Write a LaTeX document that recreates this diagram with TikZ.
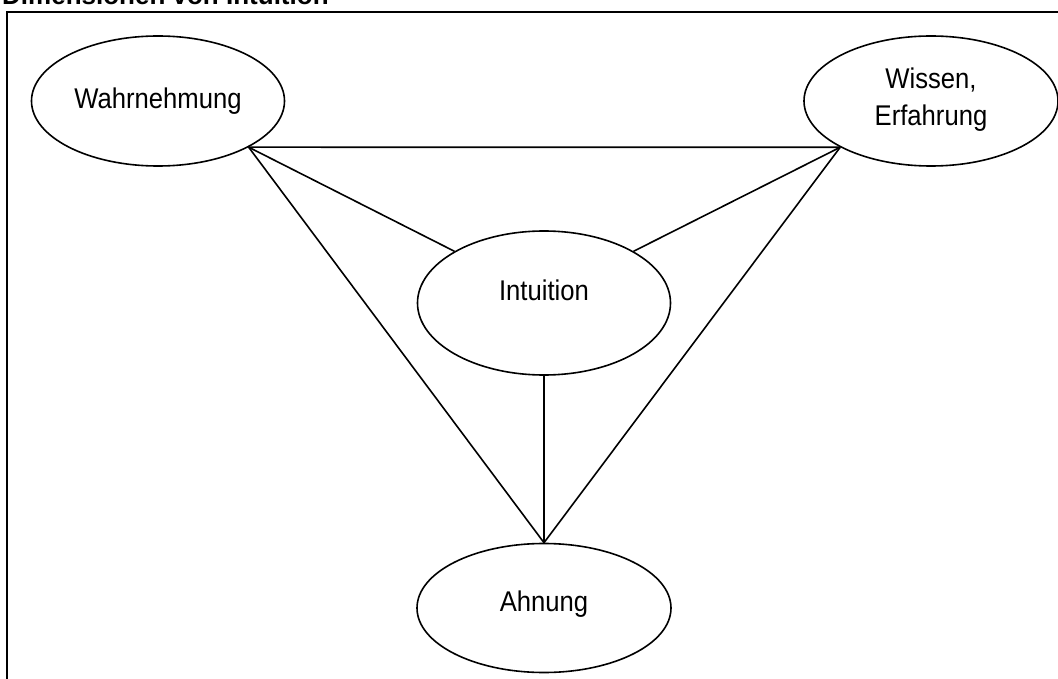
\documentclass[tikz,border=0pt]{standalone}
\usepackage{fontspec}
\setmainfont{Liberation Sans}
\newfontfamily\narrowsans[FakeStretch=0.9]{Liberation Sans}
\usetikzlibrary{shapes.geometric}
\begin{document}
\begin{tikzpicture}[x=1pt,y=-1pt,
  ell/.style={draw, ellipse, line width=1.6pt, inner sep=0pt, align=center,
    font=\narrowsans\fontsize{28.5}{35}\selectfont},
  conn/.style={line width=1.6pt}]
\useasboundingbox (0,0) rectangle (1058,679);
\clip (0,0) rectangle (1058,679);
\node[anchor=base west, inner sep=0pt, font=\bfseries\fontsize{26}{30}\selectfont] (title) at (2,5) {Dimensionen von Intuition};
\draw[line width=1.8pt] (7,700) -- (7,12) -- (1080,12);
\node[ell, minimum width=253pt, minimum height=130pt] (W) at (158,101) {Wahrnehmung};
\node[ell, minimum width=254pt, minimum height=130pt] (K) at (931,101) {\raisebox{2pt}[\height][\depth]{Wissen,}\\Erfahrung};
\node[ell, minimum width=253pt, minimum height=144pt] (I) at (544,303) {\raisebox{13pt}[\height][\depth]{Intuition}};
\node[ell, minimum width=254pt, minimum height=129pt] (A) at (544,608) {\raisebox{4pt}[\height][\depth]{Ahnung}};
\draw[conn] (W.-27) -- (K.-153);
\draw[conn] (W.-27) -- (I.150);
\draw[conn] (K.-153) -- (I.30);
\draw[conn] (W.-27) -- (A.north);
\draw[conn] (K.-153) -- (A.north);
\draw[conn] (I.south) -- (A.north);
\end{tikzpicture}
\end{document}
